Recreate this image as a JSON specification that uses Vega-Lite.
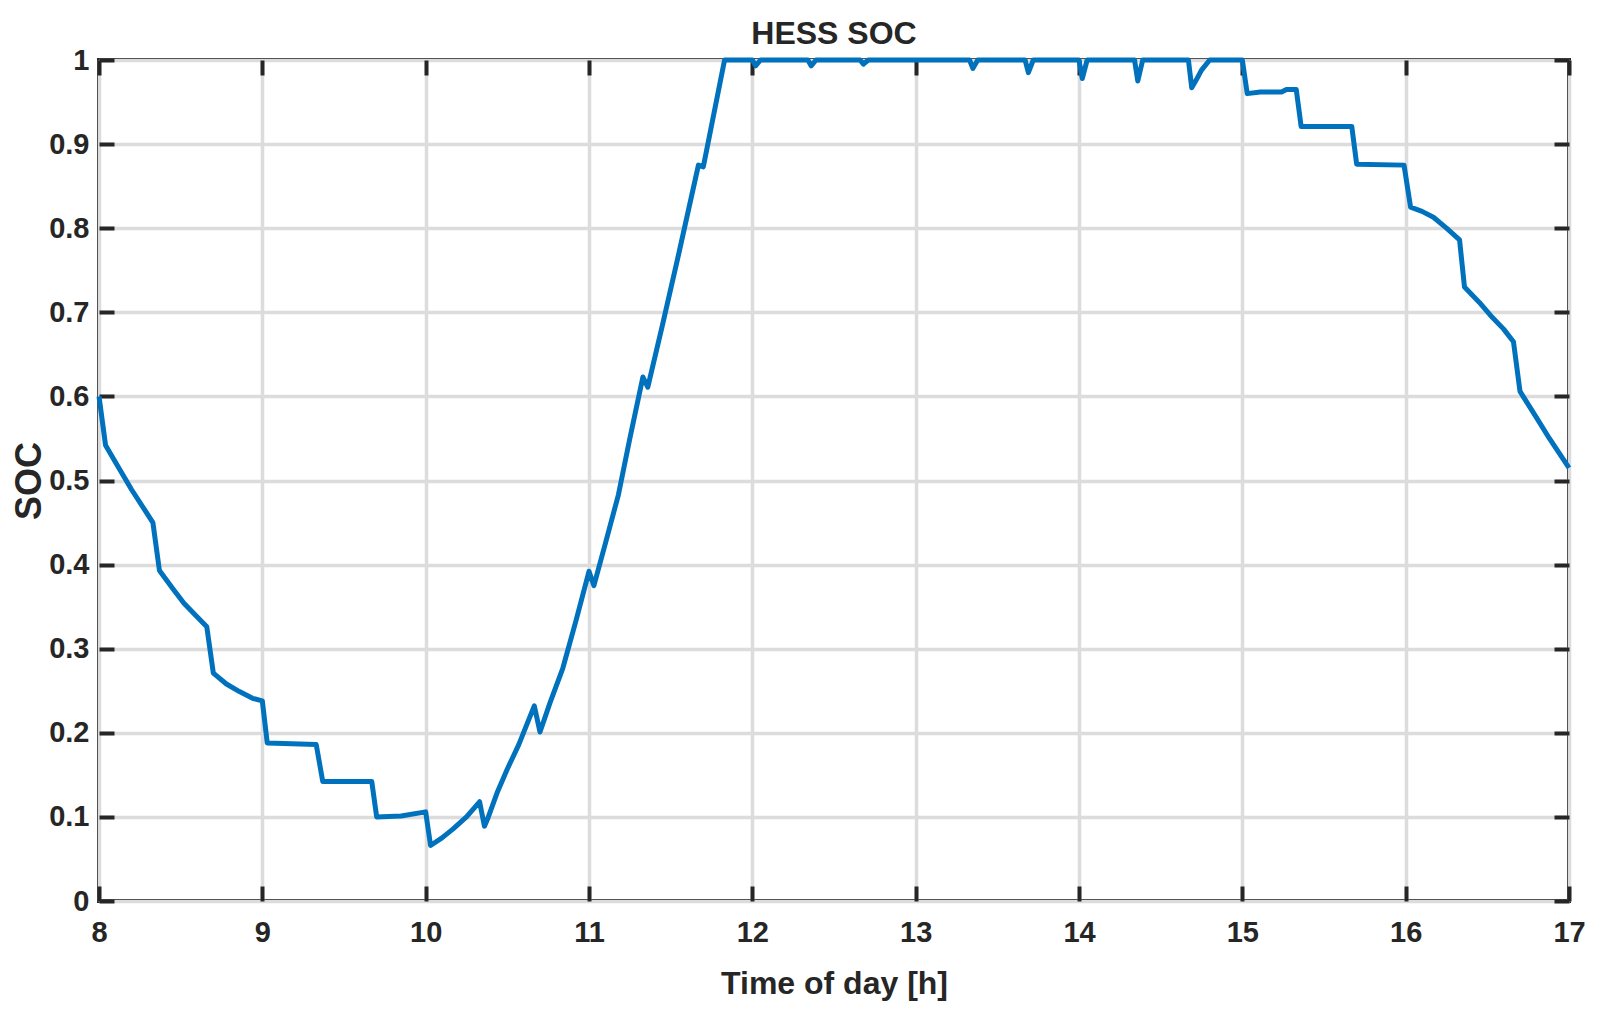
{
  "$schema": "https://vega.github.io/schema/vega-lite/v6.json",
  "width": 1470,
  "height": 841,
  "autosize": {"type": "none"},
  "padding": {"left": 99, "top": 60, "right": 31, "bottom": 118},
  "background": "white",
  "title": {
    "text": "HESS SOC",
    "font": "Liberation Sans",
    "fontSize": 32,
    "fontWeight": "bold",
    "color": "#262626",
    "anchor": "middle",
    "offset": -5
  },
  "config": {
    "view": {"stroke": "#262626", "strokeWidth": 4},
    "axis": {
      "domain": false,
      "tickSize": -15,
      "tickWidth": 4,
      "tickColor": "#262626",
      "labelFont": "Liberation Sans",
      "labelFontSize": 29,
      "labelFontWeight": "bold",
      "labelColor": "#262626",
      "labelFlush": false,
      "labelOverlap": false,
      "titleFont": "Liberation Sans",
      "titleFontSize": 32,
      "titleFontWeight": "bold",
      "titleColor": "#262626",
      "gridColor": "#dcdcdc",
      "gridWidth": 3.5
    }
  },
  "data": {
    "values": [
      {"t": 8.00, "soc": 0.600}, {"t": 8.04, "soc": 0.542}, {"t": 8.10, "soc": 0.522},
      {"t": 8.20, "soc": 0.489}, {"t": 8.33, "soc": 0.450}, {"t": 8.37, "soc": 0.393},
      {"t": 8.45, "soc": 0.372}, {"t": 8.52, "soc": 0.354}, {"t": 8.60, "soc": 0.338},
      {"t": 8.66, "soc": 0.326}, {"t": 8.70, "soc": 0.271}, {"t": 8.78, "soc": 0.258},
      {"t": 8.86, "soc": 0.249}, {"t": 8.94, "soc": 0.241}, {"t": 9.00, "soc": 0.238},
      {"t": 9.03, "soc": 0.188}, {"t": 9.33, "soc": 0.186}, {"t": 9.37, "soc": 0.142},
      {"t": 9.67, "soc": 0.142}, {"t": 9.70, "soc": 0.100}, {"t": 9.85, "soc": 0.101},
      {"t": 10.00, "soc": 0.106}, {"t": 10.03, "soc": 0.066}, {"t": 10.10, "soc": 0.075},
      {"t": 10.17, "soc": 0.086}, {"t": 10.25, "soc": 0.100}, {"t": 10.33, "soc": 0.118},
      {"t": 10.36, "soc": 0.089}, {"t": 10.38, "soc": 0.098}, {"t": 10.44, "soc": 0.130},
      {"t": 10.50, "soc": 0.157}, {"t": 10.57, "soc": 0.186}, {"t": 10.665, "soc": 0.232},
      {"t": 10.70, "soc": 0.201}, {"t": 10.76, "soc": 0.235}, {"t": 10.84, "soc": 0.277},
      {"t": 10.92, "soc": 0.333}, {"t": 11.00, "soc": 0.392}, {"t": 11.03, "soc": 0.375},
      {"t": 11.10, "soc": 0.425}, {"t": 11.18, "soc": 0.483}, {"t": 11.25, "soc": 0.550},
      {"t": 11.33, "soc": 0.623}, {"t": 11.36, "soc": 0.611}, {"t": 11.45, "soc": 0.685},
      {"t": 11.55, "soc": 0.770}, {"t": 11.67, "soc": 0.875}, {"t": 11.70, "soc": 0.873},
      {"t": 11.83, "soc": 1.0}, {"t": 12.00, "soc": 1.0}, {"t": 12.02, "soc": 0.993},
      {"t": 12.05, "soc": 1.0}, {"t": 12.34, "soc": 1.0}, {"t": 12.36, "soc": 0.993},
      {"t": 12.39, "soc": 1.0}, {"t": 12.66, "soc": 1.0}, {"t": 12.68, "soc": 0.995},
      {"t": 12.71, "soc": 1.0}, {"t": 13.33, "soc": 1.0}, {"t": 13.35, "soc": 0.99},
      {"t": 13.38, "soc": 1.0}, {"t": 13.67, "soc": 1.0}, {"t": 13.69, "soc": 0.985},
      {"t": 13.72, "soc": 1.0}, {"t": 14.00, "soc": 1.0}, {"t": 14.02, "soc": 0.978},
      {"t": 14.05, "soc": 1.0}, {"t": 14.34, "soc": 1.0}, {"t": 14.36, "soc": 0.975},
      {"t": 14.39, "soc": 1.0}, {"t": 14.67, "soc": 1.0}, {"t": 14.69, "soc": 0.967},
      {"t": 14.72, "soc": 0.977}, {"t": 14.75, "soc": 0.988}, {"t": 14.80, "soc": 1.0},
      {"t": 15.00, "soc": 1.0}, {"t": 15.03, "soc": 0.960}, {"t": 15.11, "soc": 0.962},
      {"t": 15.24, "soc": 0.962}, {"t": 15.27, "soc": 0.965}, {"t": 15.33, "soc": 0.965},
      {"t": 15.36, "soc": 0.921}, {"t": 15.67, "soc": 0.921}, {"t": 15.70, "soc": 0.876},
      {"t": 15.99, "soc": 0.875}, {"t": 16.03, "soc": 0.825}, {"t": 16.10, "soc": 0.820},
      {"t": 16.17, "soc": 0.813}, {"t": 16.25, "soc": 0.800}, {"t": 16.33, "soc": 0.786},
      {"t": 16.36, "soc": 0.730}, {"t": 16.45, "soc": 0.712}, {"t": 16.53, "soc": 0.694},
      {"t": 16.60, "soc": 0.680}, {"t": 16.66, "soc": 0.665}, {"t": 16.70, "soc": 0.606},
      {"t": 16.80, "soc": 0.575}, {"t": 16.88, "soc": 0.550}, {"t": 17.00, "soc": 0.515}
    ]
  },
  "layer": [
    {
      "mark": {"type": "line", "color": "#0072BD", "strokeWidth": 5, "strokeJoin": "round"},
      "encoding": {
        "x": {
          "field": "t",
          "type": "quantitative",
          "scale": {"domain": [8, 17], "nice": false, "zero": false},
          "axis": {
            "orient": "bottom",
            "values": [8, 9, 10, 11, 12, 13, 14, 15, 16, 17],
            "format": "d",
            "title": "Time of day [h]",
            "grid": true,
            "labelPadding": 32,
            "titlePadding": 21
          }
        },
        "y": {
          "field": "soc",
          "type": "quantitative",
          "scale": {"domain": [0, 1], "nice": false},
          "axis": {
            "orient": "left",
            "values": [0, 0.1, 0.2, 0.3, 0.4, 0.5, 0.6, 0.7, 0.8, 0.9, 1],
            "format": "~g",
            "title": "SOC",
            "titleFontSize": 36,
            "grid": true,
            "labelPadding": 25,
            "titlePadding": 0
          }
        }
      }
    },
    {
      "mark": {"type": "line", "opacity": 0},
      "encoding": {
        "x": {
          "field": "t",
          "type": "quantitative",
          "scale": {"domain": [8, 17], "nice": false, "zero": false},
          "axis": {
            "orient": "top",
            "values": [8, 9, 10, 11, 12, 13, 14, 15, 16, 17],
            "labels": false,
            "grid": false,
            "title": null
          }
        },
        "y": {
          "field": "soc",
          "type": "quantitative",
          "scale": {"domain": [0, 1], "nice": false},
          "axis": {
            "orient": "right",
            "values": [0, 0.1, 0.2, 0.3, 0.4, 0.5, 0.6, 0.7, 0.8, 0.9, 1],
            "labels": false,
            "grid": false,
            "title": null
          }
        }
      }
    }
  ],
  "resolve": {"axis": {"x": "independent", "y": "independent"}}
}
